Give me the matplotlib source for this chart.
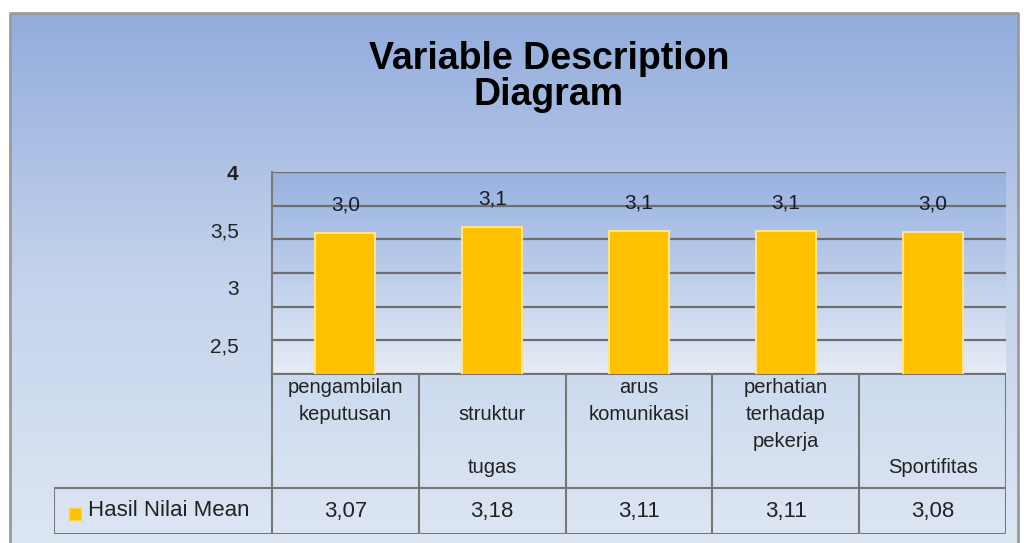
import math
import numpy as np
import matplotlib
matplotlib.use("Agg")
import matplotlib.pyplot as plt
from matplotlib.colors import LinearSegmentedColormap

# data
categories = ["pengambilan\nkeputusan", "\nstruktur\n\ntugas", "arus\nkomunikasi",
              "perhatian\nterhadap\npekerja", "\n\n\nSportifitas"]
means = [3.07, 3.18, 3.11, 3.11, 3.08]
series_name = "Hasil Nilai Mean"
ytick_pos = [4.18, 3.12, 2.08, 1.03]
ytick_labels = ["4", "3,5", "3", "2,5"]

plt.rcParams["font.family"] = ["Liberation Sans", "DejaVu Sans"]

W, H = 1024, 543
fig = plt.figure(figsize=(W / 100, H / 100), dpi=100)
fig.patch.set_facecolor("white")

# chart background with gradient and frame
bg = fig.add_axes([0, 0, 1, 1], zorder=-10)
bg.set_xlim(0, W)
bg.set_ylim(H, 0)
bg.axis("off")
outer = LinearSegmentedColormap.from_list("outer", ["#92acdc", "#c4d3ec", "#dde6f3"])
bg.imshow(np.linspace(0, 1, 256).reshape(-1, 1), cmap=outer, aspect="auto",
          extent=[10, 1018, H, 13])
bg.plot([10, 10, 1018, 1018], [H, 13, 13, H], color="#9a9a9a", lw=2)

# title
fig.text(549 / W, 1 - 77 / H, "Variable Description\nDiagram", ha="center", va="center",
         fontsize=27, fontweight="bold", linespacing=1.0, color="black")

# plot area
x = np.arange(len(means))
ax = fig.add_axes([272 / W, 1 - 374 / H, 734 / W, 202 / H])
ylo, yhi = 0.5, 4.18
ax.set_xlim(-0.5, len(means) - 0.5)
ax.set_ylim(ylo, yhi)
inner = LinearSegmentedColormap.from_list("inner", ["#97b2e0", "#bccdea", "#e6ecf6"])
ax.imshow(np.linspace(0, 1, 256).reshape(-1, 1), cmap=inner, aspect="auto",
          extent=[-0.5, len(means) - 0.5, ylo, yhi], zorder=0)
for g in np.linspace(ylo, yhi, 7):
    ax.axhline(g, color="#6e6e6e", lw=1.6, zorder=1)

ax.bar(x, means, width=0.41, color="#ffc000", edgecolor="#ffe48a", linewidth=1.5,
       zorder=3, bottom=0)
for xi, v in zip(x, means):
    lab = ("%.1f" % (math.floor(v * 10) / 10)).replace(".", ",")
    ax.annotate(lab, (xi, v), xytext=(0, 28), textcoords="offset pixels",
                ha="center", va="center", fontsize=15, color="#1a1a2a", zorder=4)

for s in ["top", "right", "bottom"]:
    ax.spines[s].set_visible(False)
ax.spines["left"].set_color("#7a7a7a")
ax.spines["left"].set_linewidth(1.5)
ax.set_xticks([])
ax.set_yticks(ytick_pos)
ax.set_yticklabels(ytick_labels, fontsize=15, color="#222222")
ax.get_yticklabels()[0].set_fontweight("bold")
ax.tick_params(axis="y", length=0, pad=24)

# data table
x0 = -0.5 - (272 - 54) / (734 / len(means))
tax = fig.add_axes([54 / W, 1 - 534 / H, (1006 - 54) / W, 160 / H])
tax.set_xlim(x0, len(means) - 0.5)
tax.set_ylim(0, 1)
tax.axis("off")
row = 46 / 160
lc, lw = "#777777", 1.5
tax.plot([x0, len(means) - 0.5], [0, 0], color=lc, lw=lw)
tax.plot([x0, len(means) - 0.5], [row, row], color=lc, lw=lw)
tax.plot([-0.5, len(means) - 0.5], [1, 1], color=lc, lw=lw)
tax.plot([x0, x0], [0, row], color=lc, lw=lw)
for i in range(len(means) + 1):
    tax.plot([i - 0.5, i - 0.5], [0, 1], color=lc, lw=lw)

for xi, c in zip(x, categories):
    tax.annotate(c, (xi, 1), xytext=(0, -4), textcoords="offset pixels",
                 ha="center", va="top", fontsize=14.5, linespacing=1.52, color="#222222")
for xi, v in zip(x, means):
    tax.text(xi, row / 2, ("%.2f" % v).replace(".", ","), ha="center", va="center",
             fontsize=16, color="#222222")
tax.scatter([x0 + 0.14], [row / 2 - 0.02], marker="s", s=70, color="#ffc000",
            edgecolor="#ffd24d")
tax.text(x0 + 0.23, row / 2, series_name, ha="left", va="center", fontsize=16,
         color="#222222")

fig.savefig("out.png", dpi=100, facecolor=fig.get_facecolor())
